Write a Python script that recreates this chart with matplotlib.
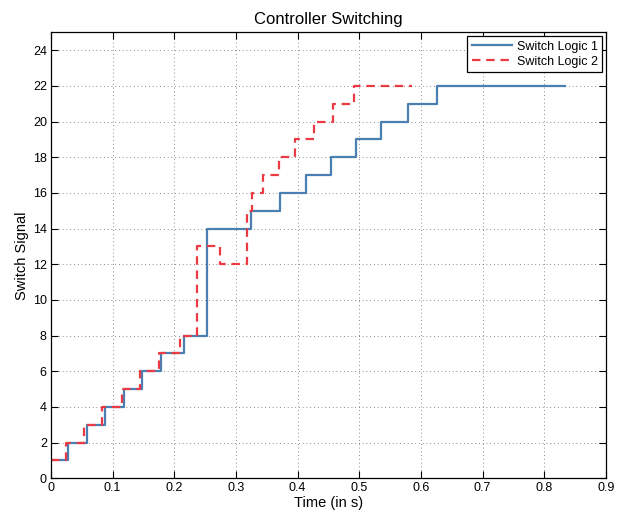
import matplotlib
matplotlib.use("Agg")
import matplotlib.pyplot as plt

plt.rcParams["font.family"] = ["Liberation Sans", "DejaVu Sans"]

# switching instants (s) and the signal level held from each instant on
T_LOGIC1 = [0, 0.028, 0.058, 0.088, 0.118, 0.147, 0.178, 0.216, 0.253,
            0.324, 0.371, 0.4135, 0.4535, 0.494, 0.535, 0.579, 0.626, 0.8335]
S_LOGIC1 = [1, 2, 3, 4, 5, 6, 7, 8, 14,
            15, 16, 17, 18, 19, 20, 21, 22, 22]

T_LOGIC2 = [0, 0.024, 0.0535, 0.083, 0.115, 0.144, 0.1755, 0.209, 0.236,
            0.2745, 0.318, 0.326, 0.344, 0.37, 0.396, 0.4265, 0.458, 0.491, 0.585]
S_LOGIC2 = [1, 2, 3, 4, 5, 6, 7, 8, 13,
            12, 15, 16, 17, 18, 19, 20, 21, 22, 22]

X_TICKS = [0, 0.1, 0.2, 0.3, 0.4, 0.5, 0.6, 0.7, 0.8, 0.9]
Y_TICKS = list(range(0, 25, 2))

BLUE = "#4a7fb2"
RED = "#ec3a44"

fig = plt.figure(figsize=(6.18, 5.18), dpi=100)
ax = fig.add_axes([0.0825, 0.0766, 0.898, 0.8607])

ax.step(T_LOGIC1, S_LOGIC1, where="post", color=BLUE, lw=1.6,
        label="Switch Logic 1")
ax.step(T_LOGIC2, S_LOGIC2, where="post", color=RED, lw=1.6,
        dashes=(3.8, 2.6), label="Switch Logic 2")

ax.set_xlim(0, 0.9)
ax.set_ylim(0, 25)
ax.set_xticks(X_TICKS)
ax.set_xticklabels([f"{x:g}" for x in X_TICKS])
ax.set_yticks(Y_TICKS)

ax.grid(True, color="#666666", linestyle=(0, (1, 3.5)), linewidth=0.6)
ax.tick_params(direction="in", top=True, right=True, length=5,
               width=0.8, labelsize=9, pad=3)
for sp in ax.spines.values():
    sp.set_linewidth(0.9)

ax.set_title("Controller Switching", fontsize=12, pad=6)
ax.set_xlabel("Time (in s)", fontsize=10.5, labelpad=1)
ax.set_ylabel("Switch Signal", fontsize=10.5, labelpad=3)

leg = ax.legend(loc="upper right", fontsize=9, fancybox=False,
                framealpha=1, edgecolor="black", borderaxespad=0.3,
                handlelength=3.2, borderpad=0.35, labelspacing=0.25,
                handletextpad=0.4)
leg.get_frame().set_linewidth(0.9)

fig.savefig("out.png", dpi=100)
